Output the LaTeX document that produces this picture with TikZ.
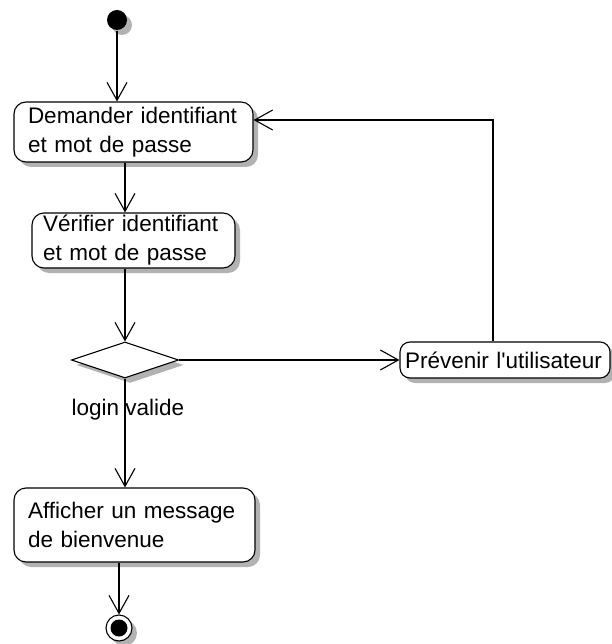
\documentclass[tikz,border=0pt]{standalone}
\usepackage{fontspec}
\setmainfont{Liberation Sans}
\usetikzlibrary{arrows.meta}
\usetikzlibrary{shapes.geometric}
\usetikzlibrary{shadows}

\begin{document}
\begin{tikzpicture}[x=1pt,y=-1pt,line width=1.1pt,
  every node/.style={font=\fontsize{22.5}{29}\selectfont},
  ombre/.style={drop shadow={shadow xshift=5pt,shadow yshift=-5pt,fill=black!30,opacity=1}},
  activite/.style={draw,fill=white,rounded corners=12pt,align=left,inner xsep=14pt,inner ysep=0pt,ombre},
  flux/.style={-{Straight Barb[length=18pt,width=20pt,line width=1.1pt]}}]

\useasboundingbox (0,0) rectangle (611,644);

\node[circle,fill=black,minimum size=20pt,inner sep=0,ombre] (debut) at (117,20) {};

\node[activite,text width=211pt,minimum height=60pt] (demander) at (133.5,132) {Demander identifiant\\et mot de passe};
\node[activite,inner xsep=11pt,text width=181pt,minimum height=55pt] (verifier) at (133.5,240.5) {Vérifier identifiant\\et mot de passe};
\node[diamond,draw,fill=white,minimum width=107pt,minimum height=36pt,inner sep=0,ombre] (choix) at (125,360) {};
\node[activite,inner xsep=5pt,text width=200pt,minimum height=36pt,rounded corners=10pt] (prevenir) at (505,360) {Prévenir l\textquotesingle utilisateur};
\node[activite,text width=213pt,minimum height=74pt] (afficher) at (134.5,525) {Afficher un message\\de bienvenue};

\node[circle,draw,fill=white,minimum size=26pt,inner sep=0,ombre] (fin) at (119,628) {};
\node[circle,fill=black,minimum size=17pt,inner sep=0] (fincentre) at (fin) {};

\coordinate (retour) at (493,120);

\draw[flux] (debut) -- (debut |- demander.north);
\draw[flux] (demander.south -| choix) -- (verifier.north -| choix);
\draw[flux] (verifier.south -| choix) -- (choix.north);
\draw[flux] (choix.east) -- (prevenir.west);
\draw[flux] (prevenir.north -| retour) -- (retour) -- (demander.east |- retour);
\draw[flux] (choix.south) -- node[pos=0.29,xshift=3pt]{login valide} (afficher.north -| choix);
\draw[flux] (afficher.south -| fin) -- (fin);

\end{tikzpicture}
\end{document}
